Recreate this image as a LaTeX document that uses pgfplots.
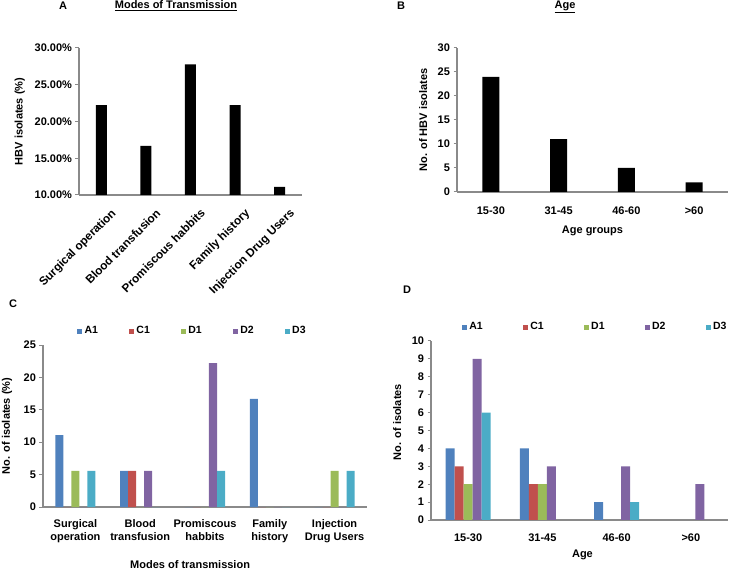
\documentclass[border=0pt]{standalone}
\usepackage{fontspec}
\setmainfont{Liberation Sans}
\usepackage{pgfplots}
\pgfplotsset{compat=1.18}
\definecolor{cA}{HTML}{4F81BD}
\definecolor{cC}{HTML}{C0504D}
\definecolor{cD}{HTML}{9BBB59}
\definecolor{cE}{HTML}{8064A2}
\definecolor{cF}{HTML}{4BACC6}
\definecolor{axisgray}{HTML}{8A8A8A}
\newcommand{\bfont}{\fontsize{11bp}{13bp}\selectfont\bfseries}
\pgfplotsset{
  panel/.style={
    scale only axis, anchor=south west,
    axis lines=left,
    axis line style={-, draw=axisgray, line width=1.2bp},
    every inner x axis line/.append style={-},
    every inner y axis line/.append style={-},
    every outer x axis line/.append style={-},
    every outer y axis line/.append style={-},
    ytick style={draw=axisgray, line width=1bp},
    xtick style={draw=none},
    tick align=outside,
    major tick length=3.5bp,
    enlargelimits=false,
    tick label style={font=\bfont, text=black},
    label style={font=\bfont},
    /pgf/number format/assume math mode=true,
    xtick=data,
  },
  leg/.style={
    legend columns=5,
    legend style={draw=none, fill=none, inner sep=0pt, outer sep=0pt,
      font=\fontsize{10.5bp}{12bp}\selectfont\bfseries,
      nodes={inner sep=0pt},
      /tikz/every odd column/.append style={column sep=2.5bp},
      /tikz/every even column/.append style={column sep=#1}},
    legend image code/.code={\fill[##1, draw=none] (0bp,-2.5bp) rectangle (5bp,2.5bp);},
  },
}
\pgfplotstableread{
x A1 C1 D1 D2 D3
0 11.11 0 5.56 0 5.56
1 5.56 5.56 0 5.56 0
2 0 0 0 22.22 5.56
3 16.67 0 0 0 0
4 0 0 5.56 0 5.56
}\tabC
\pgfplotstableread{
x A1 C1 D1 D2 D3
0 4 3 2 9 6
1 4 2 2 3 0
2 1 0 0 3 1
3 0 0 0 2 0
}\tabD
\begin{document}
\begin{tikzpicture}
\path[use as bounding box] (0bp,0bp) rectangle (733bp,570bp);
% Panel A
\begin{axis}[panel, at={(79bp,375bp)}, width=223bp, height=147bp,
  xmin=-0.5, xmax=4.5, ymin=10, ymax=30,
  ytick={10,15,20,25,30},
  yticklabels={10.00\%,15.00\%,20.00\%,25.00\%,30.00\%},
  xticklabels={Surgical operation,Blood transfusion,Promiscous habbits,Family history,Injection Drug Users},
  xticklabel style={rotate=45, anchor=north east, inner sep=1bp, xshift=1bp, yshift=-12bp,
    font=\fontsize{11.7bp}{13bp}\selectfont\bfseries},
  ylabel={HBV isolates (\%)},
  ylabel style={at={(-0.265,0.5)}, anchor=center},
  ybar, bar width=11bp]
\addplot[fill=black, draw=none] coordinates {(0,22.22) (1,16.67) (2,27.78) (3,22.22) (4,11.11)};
\end{axis}
% Panel B
\begin{axis}[panel, at={(457bp,378bp)}, width=271bp, height=144bp,
  xmin=-0.5, xmax=3.5, ymin=0, ymax=30, ytick distance=5,
  xticklabels={15-30,31-45,46-60,>60},
  xticklabel style={yshift=-8bp},
  xlabel={Age groups},
  xlabel style={at={(0.5,-0.271)}, anchor=center},
  ylabel={No. of HBV isolates},
  ylabel style={at={(-0.125,0.5)}, anchor=center},
  ybar, bar width=17bp]
\addplot[fill=black, draw=none] coordinates {(0,24) (1,11) (2,5) (3,2)};
\end{axis}
% Panel C
\begin{axis}[panel, at={(43bp,63bp)}, width=324bp, height=162bp,
  xmin=-0.5, xmax=4.5, ymin=0, ymax=25, ytick distance=5,
  xticklabels={{Surgical\\operation},{Blood\\transfusion},{Promiscous\\habbits},{Family\\history},{Injection\\Drug Users}},
  xticklabel style={align=center, yshift=-6bp},
  xlabel={Modes of transmission},
  xlabel style={at={(0.454,-0.358)}, anchor=center},
  ylabel={No. of isolates (\%)},
  ylabel style={at={(-0.111,0.5)}, anchor=center},
  ybar=0pt, bar width=8bp,
  leg=31bp,
  legend style={at={(0.105,1.086)}, anchor=west}]
\addplot[fill=cA, draw=none] table[x=x, y=A1] {\tabC};
\addplot[fill=cC, draw=none] table[x=x, y=C1] {\tabC};
\addplot[fill=cD, draw=none] table[x=x, y=D1] {\tabC};
\addplot[fill=cE, draw=none] table[x=x, y=D2] {\tabC};
\addplot[fill=cF, draw=none] table[x=x, y=D3] {\tabC};
\legend{A1,C1,D1,D2,D3}
\end{axis}
% Panel D
\begin{axis}[panel, at={(431bp,50bp)}, width=297bp, height=179bp,
  xmin=-0.5, xmax=3.5, ymin=0, ymax=10, ytick distance=1,
  xticklabels={15-30,31-45,46-60,>60},
  xticklabel style={yshift=-7bp},
  xlabel={Age},
  xlabel style={at={(0.51,-0.196)}, anchor=center},
  ylabel={No. of isolates},
  ylabel style={at={(-0.114,0.547)}, anchor=center},
  ybar=0pt, bar width=9bp,
  leg=40bp,
  legend style={at={(0.104,1.078)}, anchor=west}]
\addplot[fill=cA, draw=none] table[x=x, y=A1] {\tabD};
\addplot[fill=cC, draw=none] table[x=x, y=C1] {\tabD};
\addplot[fill=cD, draw=none] table[x=x, y=D1] {\tabD};
\addplot[fill=cE, draw=none] table[x=x, y=D2] {\tabD};
\addplot[fill=cF, draw=none] table[x=x, y=D3] {\tabD};
\legend{A1,C1,D1,D2,D3}
\end{axis}
% Titles and panel letters
\node[font=\bfont] at (63bp,564bp) {A};
\node[font=\bfont] at (176bp,564bp) {\underline{Modes of Transmission}};
\node[font=\bfont] at (401bp,564bp) {B};
\node[font=\bfont] at (565bp,563bp) {\underline{Age}};
\node[font=\bfont] at (13bp,266bp) {C};
\node[font=\bfont] at (407bp,280bp) {D};
\end{tikzpicture}
\end{document}
